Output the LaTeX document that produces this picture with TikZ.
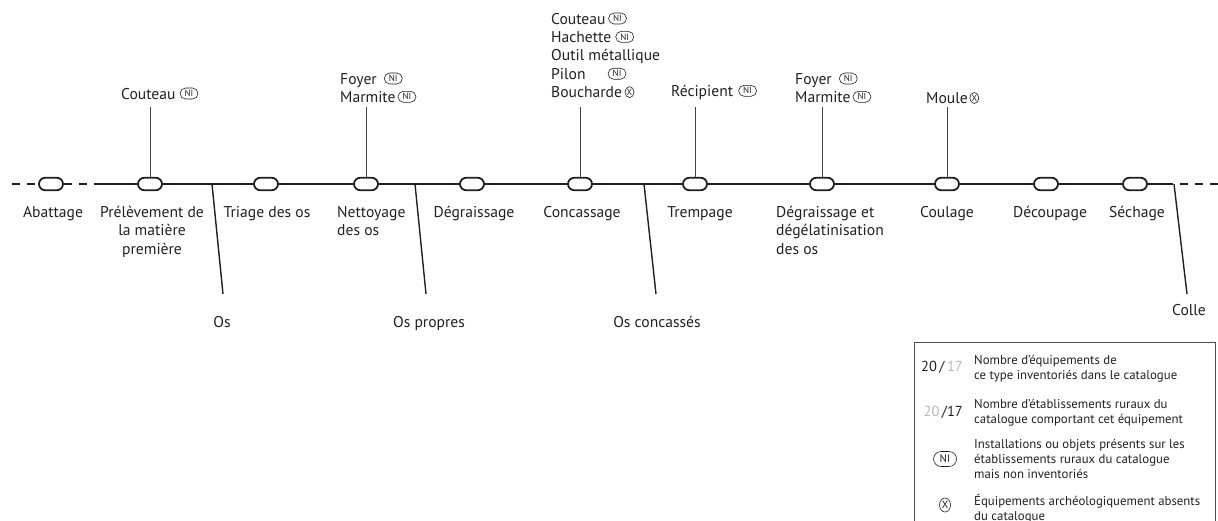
\documentclass[tikz,border=0pt]{standalone}
\usepackage{fontspec}
\setmainfont{PT Sans}
\usetikzlibrary{shapes.misc,shapes.geometric}
\definecolor{ink}{HTML}{231F20}
\definecolor{lightg}{gray}{0.72}
\begin{document}
\begin{tikzpicture}[x=1pt,y=-1pt,
  pill/.style={draw=ink, line width=1.8pt, fill=white, rounded rectangle, minimum width=24pt, minimum height=12.5pt, inner sep=0pt},
  lab/.style={font=\fontsize{15.6}{18.5}\selectfont, inner sep=0pt, text=ink},
  tlab/.style={lab, anchor=base west},
  leg/.style={font=\fontsize{12.8}{14.8}\selectfont, inner sep=0pt, anchor=base west, align=left, text=ink},
  nisym/.style={draw=ink, line width=0.6pt, rounded rectangle, inner sep=0pt, minimum width=18pt, minimum height=11pt, font=\fontsize{9}{9}\selectfont, text=ink, anchor=west},
  xsym/.style={draw=ink, line width=0.6pt, ellipse, inner sep=0pt, minimum width=9pt, minimum height=11pt, font=\fontsize{9}{9}\selectfont, text=ink, anchor=west},
  mainline/.style={line width=1.8pt, draw=ink},
  dashline/.style={line width=1.8pt, draw=ink, dash pattern=on 8pt off 7pt},
  upline/.style={line width=1pt, draw=ink!85},
  downline/.style={line width=1.4pt, draw=ink}]
\useasboundingbox (0,0) rectangle (1218,520);
% pills
\node[pill] (p1) at (51,184) {};
\node[pill] (p2) at (150,184) {};
\node[pill] (p3) at (266,184) {};
\node[pill] (p4) at (366,184) {};
\node[pill] (p5) at (472,184) {};
\node[pill] (p6) at (580,184) {};
\node[pill] (p7) at (695,184) {};
\node[pill] (p8) at (822,184) {};
\node[pill] (p9) at (947,184) {};
\node[pill] (p10) at (1046,184) {};
\node[pill] (p11) at (1135,184) {};
% main line
\coordinate (l0) at (12,184);
\coordinate (l1) at (99,184);
\coordinate (l2) at (1173,184);
\coordinate (l3) at (1180,184);
\coordinate (l4) at (1218,184);
\draw[dashline] (l0) -- (p1.west);
\draw[dashline] (p1.east) -- (l1);
\draw[mainline] (l1) -- (p2.west) (p2.east) -- (p3.west) (p3.east) -- (p4.west) (p4.east) -- (p5.west) (p5.east) -- (p6.west) (p6.east) -- (p7.west) (p7.east) -- (p8.west) (p8.east) -- (p9.west) (p9.east) -- (p10.west) (p10.east) -- (p11.west) (p11.east) -- (l2);
\draw[dashline] (l3) -- (l4);
% labels below (base anchor = last line)
\node[lab, anchor=base] (b1) at (53,217) {Abattage};
\node[lab, anchor=base, align=center] (b2) at (152,254) {Prélèvement de\\la matière\\première};
\node[lab, anchor=base] (b3) at (267,217) {Triage des os};
\node[lab, anchor=base west, align=left] (b4) at (337,235.5) {Nettoyage\\des os};
\node[lab, anchor=base] (b5) at (474,217) {Dégraissage};
\node[lab, anchor=base] (b6) at (582,217) {Concassage};
\node[lab, anchor=base] (b7) at (700,217) {Trempage};
\node[lab, anchor=base west, align=left] (b8) at (776,254) {Dégraissage et\\dégélatinisation\\des os};
\node[lab, anchor=base] (b9) at (947,217) {Coulage};
\node[lab, anchor=base] (b10) at (1050,217) {Découpage};
\node[lab, anchor=base] (b11) at (1137,217) {Séchage};
% labels above
\node[tlab] (t2) at (121,99) {Couteau};
\node[nisym] (s2) at ([xshift=4pt,yshift=5.5pt]t2.base east) {NI};
\node[tlab] (t4a) at (340,84) {Foyer};
\node[nisym] (s4a) at ([xshift=7pt,yshift=5.5pt]t4a.base east) {NI};
\node[tlab] (t4b) at (340,102.3) {Marmite};
\node[nisym] (s4b) at ([xshift=2pt,yshift=5.5pt]t4b.base east) {NI};
\node[tlab] (t6a) at (551,24) {Couteau};
\node[nisym] (s6a) at ([xshift=2.5pt,yshift=5.5pt]t6a.base east) {NI};
\node[tlab] (t6b) at (551,42.4) {Hachette};
\node[nisym] (s6b) at ([xshift=4pt,yshift=5.5pt]t6b.base east) {NI};
\node[tlab] (t6c) at (551,60.8) {Outil métallique};
\node[tlab] (t6d) at (551,79.2) {Pilon};
\node[nisym] (s6d) at ([xshift=22pt,yshift=5.5pt]t6d.base east) {NI};
\node[tlab] (t6e) at (551,97.6) {Boucharde};
\node[xsym] (s6e) at ([xshift=2.5pt,yshift=5.5pt]t6e.base east) {X};
\node[tlab] (t7) at (671,96.3) {Récipient};
\node[nisym] (s7) at ([xshift=5pt,yshift=5.5pt]t7.base east) {NI};
\node[tlab] (t8a) at (795,84) {Foyer};
\node[nisym] (s8a) at ([xshift=7pt,yshift=5.5pt]t8a.base east) {NI};
\node[tlab] (t8b) at (795,102.3) {Marmite};
\node[nisym] (s8b) at ([xshift=2pt,yshift=5.5pt]t8b.base east) {NI};
\node[tlab] (t9) at (926,103.5) {Moule};
\node[xsym] (s9) at ([xshift=1.5pt,yshift=5.5pt]t9.base east) {X};
% up connectors
\coordinate (u2) at (150,107);
\coordinate (u4) at (366,107);
\coordinate (u6) at (580,107);
\coordinate (u7) at (695,107);
\coordinate (u8) at (822,107);
\coordinate (u9) at (947,107);
\draw[upline] (p2.north) -- (u2);
\draw[upline] (p4.north) -- (u4);
\draw[upline] (p6.north) -- (u6);
\draw[upline] (p7.north) -- (u7);
\draw[upline] (p8.north) -- (u8);
\draw[upline] (p9.north) -- (u9);
% down outputs
\coordinate (d1a) at (212,184); \coordinate (d1b) at (223,294);
\coordinate (d2a) at (415,184); \coordinate (d2b) at (426,294);
\coordinate (d3a) at (644,184); \coordinate (d3b) at (656,294);
\coordinate (d4a) at (1174,184); \coordinate (d4b) at (1187,294);
\draw[downline] (d1a) -- (d1b);
\draw[downline] (d2a) -- (d2b);
\draw[downline] (d3a) -- (d3b);
\draw[downline] (d4a) -- (d4b);
\node[lab, anchor=base] (o1) at (222,327) {Os};
\node[lab, anchor=base] (o2) at (429,327) {Os propres};
\node[lab, anchor=base] (o3) at (657,327) {Os concassés};
\node[lab, anchor=base] (o4) at (1189,315) {Colle};
% legend
\coordinate (g1) at (914,522);
\coordinate (g2) at (914,342);
\coordinate (g3) at (1215,342);
\coordinate (g4) at (1215,522);
\draw[line width=0.8pt, draw=ink!80] (g1) -- (g2) -- (g3) -- (g4);
\node[lab, font=\fontsize{14.5}{14.5}\selectfont, anchor=base east] (k1) at (963,371) {20\,/\,\textcolor{lightg}{17}};
\node[leg] (k1t) at (974,379) {Nombre d’équipements de\\ce type inventoriés dans le catalogue};
\node[lab, font=\fontsize{14.5}{14.5}\selectfont, anchor=base east] (k2) at (963,416) {\textcolor{lightg}{20}\,/17};
\node[leg] (k2t) at (974,423) {Nombre d’établissements ruraux du\\catalogue comportant cet équipement};
\node[nisym, anchor=center, minimum width=23pt, minimum height=15pt, font=\fontsize{11}{11}\selectfont] (k3) at (945,459) {NI};
\node[leg] (k3t) at (974,478) {Installations ou objets présents sur les\\établissements ruraux du catalogue\\mais non inventoriés};
\node[xsym, anchor=center, minimum width=11pt, minimum height=14pt, font=\fontsize{10.5}{10.5}\selectfont] (k4) at (945,505) {X};
\node[leg] (k4t) at (974,520) {Équipements archéologiquement absents\\du catalogue};
\end{tikzpicture}
\end{document}
